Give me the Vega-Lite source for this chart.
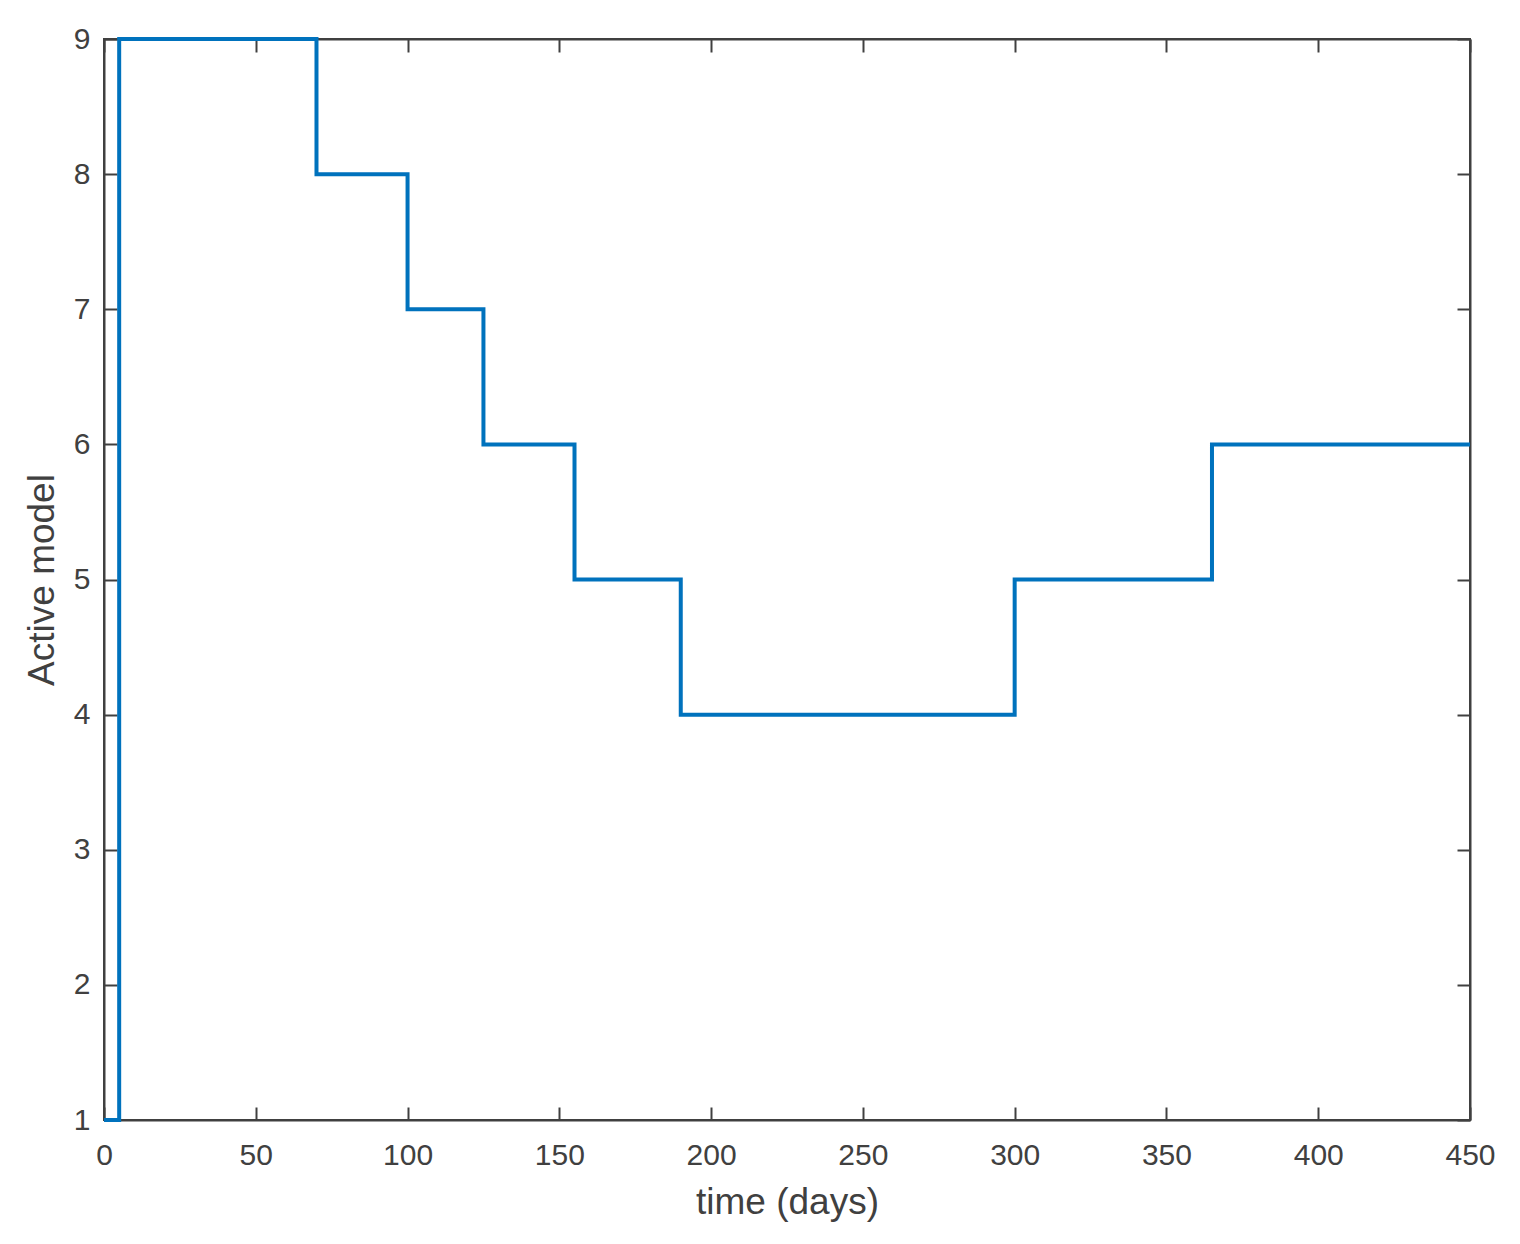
{
  "$schema": "https://vega.github.io/schema/vega-lite/v6.json",
  "width": 1366,
  "height": 1081,
  "autosize": {"type": "none"},
  "padding": {"left": 104, "top": 39, "right": 50, "bottom": 124},
  "background": "white",
  "config": {
    "view": {"stroke": "#404040", "strokeWidth": 2},
    "axis": {
      "grid": false,
      "domainColor": "#404040",
      "domainWidth": 2,
      "tickColor": "#404040",
      "tickWidth": 2,
      "tickSize": -13,
      "labelFlush": false,
      "labelOverlap": false,
      "labelFont": "Liberation Sans",
      "titleFont": "Liberation Sans",
      "labelFontSize": 30,
      "titleFontSize": 37,
      "labelColor": "#404040",
      "titleColor": "#404040",
      "titleFontWeight": "normal"
    }
  },
  "data": {
    "values": [
      {"t": 0, "m": 1},
      {"t": 5, "m": 9},
      {"t": 70, "m": 8},
      {"t": 100, "m": 7},
      {"t": 125, "m": 6},
      {"t": 155, "m": 5},
      {"t": 190, "m": 4},
      {"t": 300, "m": 5},
      {"t": 365, "m": 6},
      {"t": 450, "m": 6}
    ]
  },
  "layer": [
    {
      "mark": {"type": "line", "interpolate": "step-after", "color": "#0072BD", "strokeWidth": 4, "clip": false},
      "encoding": {
        "x": {"field": "t", "type": "quantitative", "scale": {"domain": [0, 450], "nice": false, "zero": false},
          "axis": {"title": "time (days)", "values": [0,50,100,150,200,250,300,350,400,450], "labelPadding": 33, "titlePadding": 14, "orient": "bottom"}},
        "y": {"field": "m", "type": "quantitative", "scale": {"domain": [1, 9], "nice": false, "zero": false},
          "axis": {"title": "Active model", "values": [1,2,3,4,5,6,7,8,9], "labelPadding": 27, "titlePadding": 12, "orient": "left"}}
      }
    },
    {
      "mark": {"type": "point", "opacity": 0},
      "encoding": {
        "x": {"field": "t", "type": "quantitative", "axis": {"orient": "top", "labels": false, "title": null, "values": [0,50,100,150,200,250,300,350,400,450]}},
        "y": {"field": "m", "type": "quantitative", "axis": {"orient": "right", "labels": false, "title": null, "values": [1,2,3,4,5,6,7,8,9]}}
      }
    }
  ]
}
